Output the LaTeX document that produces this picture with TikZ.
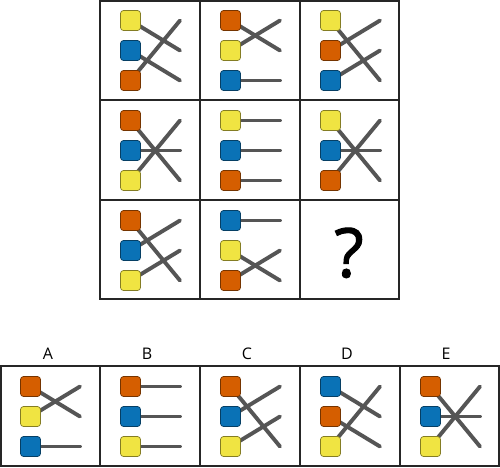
\documentclass[tikz,border=0pt]{standalone}
\usepackage{fontspec}
\setmainfont{Open Sans}
\newfontfamily\qfont[FakeBold=1.5]{Open Sans}
\usetikzlibrary{backgrounds}
\definecolor{cyel}{HTML}{F0E442}
\definecolor{cblu}{HTML}{0A72B6}
\definecolor{cora}{HTML}{D55E00}
\definecolor{lgray}{HTML}{555555}
\tikzset{
  sq/.style={draw=#1!55!black, fill=#1, rounded corners=3pt, minimum size=20pt, inner sep=0pt, line width=0.7pt},
  link/.style={draw=lgray, line width=3.9pt, line cap=round},
  frame/.style={line width=2pt, draw=black!85},
  lab/.style={font=\fontsize{16}{16}\selectfont, anchor=base},
}
\newcommand\panel[4]{%
  \foreach \col/\tgt [count=\i] in {#4} {
    \node[sq=\col] (#1s\i) at ({#2+30.5},{#3+30*\i-9.5}) {};
    \coordinate (#1e\i) at ({#2+80},{#3+30*\tgt-9.5});
    \begin{pgfonlayer}{background}
      \draw[link] (#1s\i.center) -- (#1e\i);
    \end{pgfonlayer}
  }%
}
\begin{document}
\begin{tikzpicture}[x=1pt,y=-1pt]
\useasboundingbox (0,0) rectangle (500,467);
% top grid
\draw[frame] (100,1) rectangle (399,299);
\draw[frame] (200,1) -- (200,299) (300,1) -- (300,299);
\draw[frame] (100,100) -- (399,100) (100,200) -- (399,200);
\panel{a}{100}{0}{cyel/2,cblu/3,cora/1}
\panel{b}{200}{0}{cora/2,cyel/1,cblu/3}
\panel{c}{300}{0}{cyel/3,cora/1,cblu/2}
\panel{d}{100}{100}{cora/3,cblu/2,cyel/1}
\panel{e}{200}{100}{cyel/1,cblu/2,cora/3}
\panel{f}{300}{100}{cyel/3,cblu/2,cora/1}
\panel{g}{100}{200}{cora/3,cblu/1,cyel/2}
\panel{h}{200}{200}{cblu/1,cyel/3,cora/2}
\node[anchor=base, font=\qfont\fontsize{68}{68}\selectfont] (q) at (349,277) {?};
% answers
\draw[frame] (1,366) rectangle (499,466);
\draw[frame] (100,366) -- (100,466) (200,366) -- (200,466) (300,366) -- (300,466) (400,366) -- (400,466);
\panel{A}{0}{366}{cora/2,cyel/1,cblu/3}
\panel{B}{100}{366}{cora/1,cblu/2,cyel/3}
\panel{C}{200}{366}{cora/3,cblu/1,cyel/2}
\panel{D}{300}{366}{cblu/2,cora/3,cyel/1}
\panel{E}{400}{366}{cora/3,cblu/2,cyel/1}
\node[lab] (lA) at (48,359) {A};
\node[lab] (lB) at (147,359) {B};
\node[lab] (lC) at (247,359) {C};
\node[lab] (lD) at (347,359) {D};
\node[lab] (lE) at (446,359) {E};
\end{tikzpicture}
\end{document}
